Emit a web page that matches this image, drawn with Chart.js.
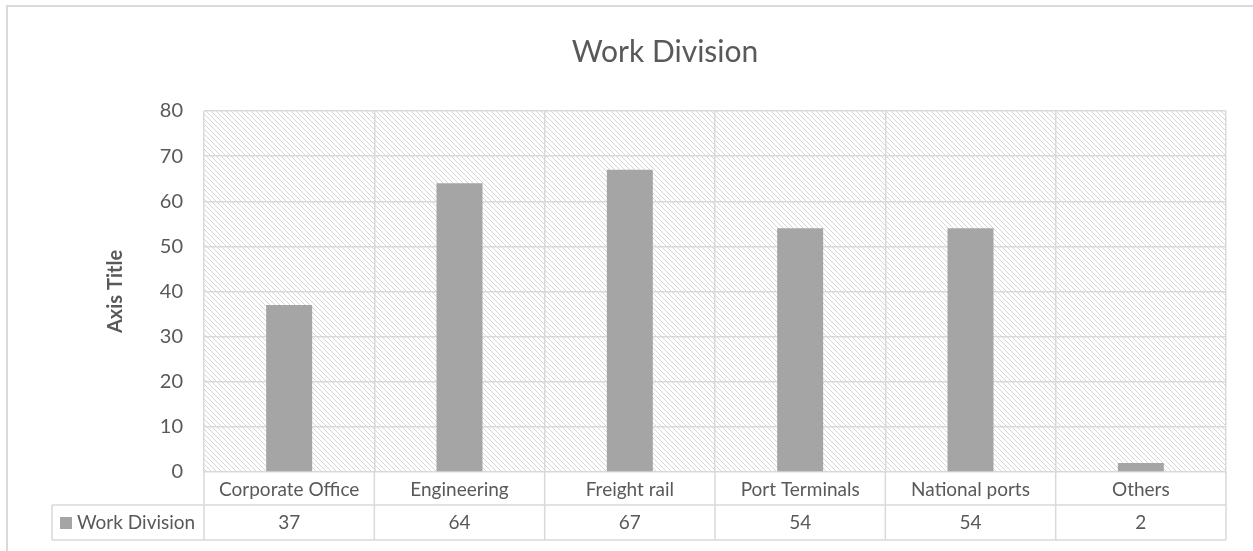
<!DOCTYPE html>
<html>
<head>
<meta charset="utf-8">
<script src="https://cdn.jsdelivr.net/npm/chart.js@4"></script>
<style>
  html, body { margin: 0; padding: 0; background: #ffffff; }
  #wrap { width: 1253px; height: 551px; }
</style>
</head>
<body>
<div id="wrap"><canvas id="c" width="1253" height="551"></canvas></div>
<script>
const categories = ['Corporate Office', 'Engineering', 'Freight rail', 'Port Terminals', 'National ports', 'Others'];
const seriesName = 'Work Division';
const values = [37, 64, 67, 54, 54, 2];
const yMin = 0, yMax = 80, yStep = 10;

const FONT = 'Lato, "Open Sans", sans-serif';
const TEXT = '#595959';
const LINE = '#d9d9d9';
const BAR = '#a5a5a5';

function makeHatch(ctx) {
  const t = document.createElement('canvas');
  t.width = 5; t.height = 5;
  const g = t.getContext('2d');
  g.fillStyle = '#ffffff'; g.fillRect(0, 0, 5, 5);
  g.fillStyle = '#d6d6d6';
  for (let i = 0; i < 5; i++) g.fillRect(i, i, 1, 1);
  return ctx.createPattern(t, 'repeat');
}

const hatchPlugin = {
  id: 'hatch',
  beforeDraw(chart) {
    const { ctx, chartArea: a } = chart;
    ctx.save();
    ctx.fillStyle = makeHatch(ctx);
    ctx.fillRect(a.left, a.top, a.right - a.left, a.bottom - a.top);
    ctx.restore();
  }
};

const tablePlugin = {
  id: 'dataTable',
  afterDraw(chart) {
    const { ctx, chartArea: a, scales } = chart;
    const x = scales.x;
    const row1Top = a.bottom, row2Top = a.bottom + 33, row2Bot = a.bottom + 68;
    const tableLeft = 52;
    ctx.save();
    ctx.strokeStyle = LINE;
    ctx.lineWidth = 1.5;
    ctx.beginPath();
    ctx.moveTo(tableLeft, row2Top); ctx.lineTo(a.right, row2Top);
    ctx.moveTo(tableLeft, row2Bot); ctx.lineTo(a.right, row2Bot);
    ctx.moveTo(tableLeft, row2Top); ctx.lineTo(tableLeft, row2Bot);
    const n = categories.length;
    const w = (a.right - a.left) / n;
    for (let i = 0; i <= n; i++) {
      const bx = i < n ? x.getPixelForValue(i) - w / 2 : x.getPixelForValue(n - 1) + w / 2;
      ctx.moveTo(bx, row1Top); ctx.lineTo(bx, row2Bot);
    }
    ctx.stroke();

    // legend key
    ctx.fillStyle = BAR;
    ctx.fillRect(60, row2Top + 12, 12, 12);
    ctx.fillStyle = TEXT;
    ctx.font = '19px ' + FONT;
    ctx.textBaseline = 'middle';
    ctx.textAlign = 'left';
    ctx.fillText(seriesName, 77, (row2Top + row2Bot) / 2);
    ctx.textAlign = 'center';
    values.forEach((v, i) => {
      ctx.fillText(String(v), x.getPixelForValue(i), (row2Top + row2Bot) / 2);
    });

    // outer frame
    ctx.lineWidth = 2;
    ctx.strokeRect(7, 6, 1260, 600);
    ctx.restore();
  }
};

new Chart(document.getElementById('c'), {
  type: 'bar',
  data: {
    labels: categories,
    datasets: [{
      label: seriesName,
      data: values,
      backgroundColor: BAR,
      borderWidth: 0,
      categoryPercentage: 1,
      barPercentage: 0.27
    }]
  },
  plugins: [hatchPlugin, tablePlugin],
  options: {
    responsive: false,
    animation: false,
    devicePixelRatio: 1,
    layout: { padding: { top: 0, left: 104, right: 27, bottom: 46 } },
    plugins: {
      legend: { display: false },
      tooltip: { enabled: false },
      title: {
        display: true,
        text: 'Work Division',
        color: TEXT,
        font: { family: FONT, size: 30, weight: 'normal', lineHeight: 1.2 },
        padding: { top: 34, bottom: 41 }
      }
    },
    scales: {
      x: {
        afterFit(s) { s.height = 33; },
        grid: { color: LINE, lineWidth: 1.5, drawTicks: false, offset: true },
        border: { display: false },
        ticks: { color: TEXT, font: { family: FONT, size: 19 }, padding: 6, maxRotation: 0, autoSkip: false }
      },
      y: {
        min: yMin, max: yMax,
        afterFit(s) { s.width = 100; },
        grid: { color: LINE, lineWidth: 1.5, drawTicks: false },
        border: { display: false },
        ticks: { stepSize: yStep, color: TEXT, font: { family: FONT, size: 20 }, padding: 21 },
        title: {
          display: true, text: 'Axis Title', color: TEXT,
          font: { family: FONT, size: 20, weight: 'bold' }, padding: 0
        }
      }
    }
  }
});
</script>
</body>
</html>
